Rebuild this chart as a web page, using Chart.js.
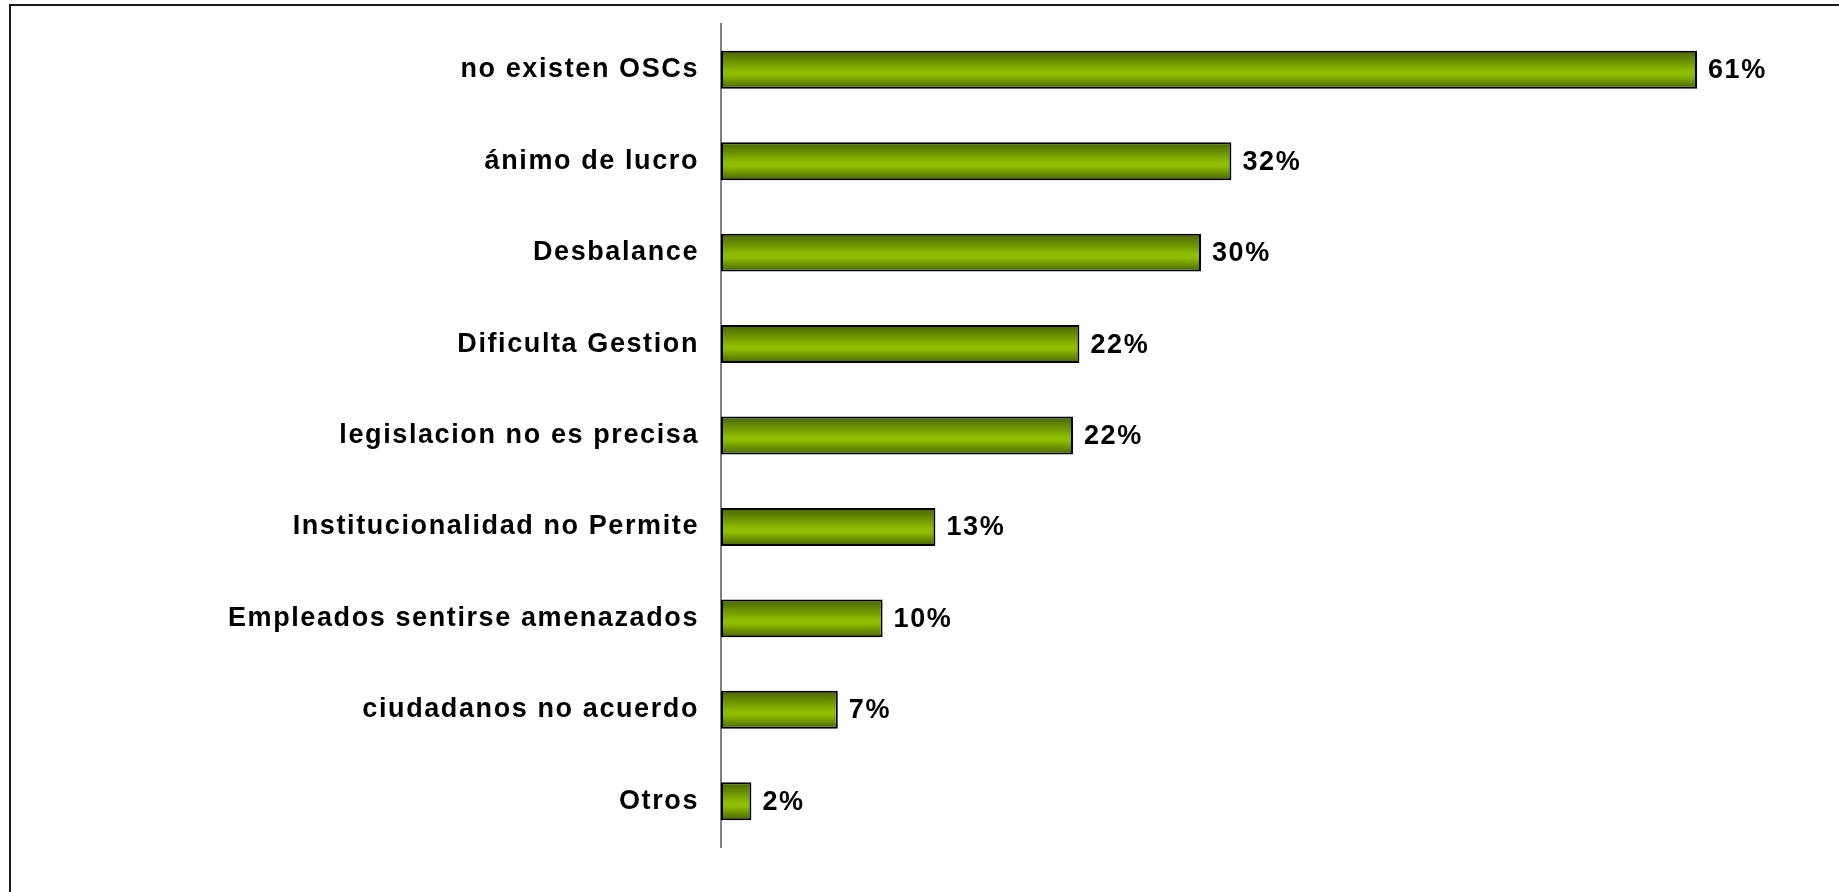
<!DOCTYPE html>
<html>
<head>
<meta charset="utf-8">
<script src="https://cdn.jsdelivr.net/npm/chart.js@4"></script>
<style>
  html, body { margin: 0; padding: 0; background: #fff; }
  #wrap { width: 1839px; height: 892px; position: relative; }
</style>
</head>
<body>
<div id="wrap"><canvas id="myChart"></canvas></div>
<script>
// catégories et valeurs (en %)
const categories = [
  'no existen OSCs',
  'ánimo de lucro',
  'Desbalance',
  'Dificulta Gestion',
  'legislacion no es precisa',
  'Institucionalidad no Permite',
  'Empleados sentirse amenazados',
  'ciudadanos no acuerdo',
  'Otros'
];
const percentages = [61, 31.9, 30, 22.4, 22, 13.4, 10.1, 7.3, 1.9];

const FONT = '"Liberation Sans", Arial, sans-serif';
const SPACING = '1.6px';

// espacement des lettres comme dans l'original
const spacingPlugin = {
  id: 'spacing',
  beforeUpdate(chart) { chart.ctx.letterSpacing = SPACING; },
  beforeDraw(chart) {
    const ctx = chart.ctx;
    ctx.letterSpacing = SPACING;
    // cadre extérieur (seulement haut et gauche visibles)
    ctx.save();
    ctx.strokeStyle = '#1a1a1a';
    ctx.lineWidth = 2;
    ctx.beginPath();
    ctx.moveTo(10, 900);
    ctx.lineTo(10, 5);
    ctx.lineTo(1850, 5);
    ctx.stroke();
    ctx.restore();
  }
};

// étiquettes de valeur à droite des barres
const valueLabels = {
  id: 'valueLabels',
  afterDatasetsDraw(chart) {
    const ctx = chart.ctx;
    const meta = chart.getDatasetMeta(0);
    ctx.save();
    ctx.letterSpacing = SPACING;
    ctx.font = 'bold 27px ' + FONT;
    ctx.fillStyle = '#000';
    ctx.textAlign = 'left';
    ctx.textBaseline = 'middle';
    meta.data.forEach((bar, i) => {
      ctx.fillText(Math.round(percentages[i]) + '%', bar.x + 11, bar.y + 1);
    });
    ctx.restore();
  }
};

function barGradient(context) {
  const chart = context.chart;
  const yScale = chart.scales.y;
  if (!yScale || context.dataIndex === undefined) return '#8cba00';
  const yc = yScale.getPixelForValue(context.dataIndex);
  if (!isFinite(yc)) return '#8cba00';
  const g = chart.ctx.createLinearGradient(0, yc - 19, 0, yc + 19);
  g.addColorStop(0, '#476300');
  g.addColorStop(0.55, '#8fbf00');
  g.addColorStop(0.65, '#8cbb00');
  g.addColorStop(1, '#476300');
  return g;
}

const ctx = document.getElementById('myChart').getContext('2d');
const myChart = new Chart(ctx, {
  type: 'bar',
  data: {
    labels: categories,
    datasets: [{
      data: percentages,
      backgroundColor: barGradient,
      borderColor: '#000',
      borderWidth: 2,
      borderSkipped: false,
      barPercentage: 0.415,
      categoryPercentage: 1
    }]
  },
  options: {
    indexAxis: 'y',
    responsive: true,
    maintainAspectRatio: false,
    animation: false,
    layout: { padding: { left: 0, right: 78, top: 24, bottom: 45 } },
    plugins: {
      legend: { display: false },
      tooltip: { enabled: false }
    },
    scales: {
      x: {
        display: false,
        min: 0,
        max: 65
      },
      y: {
        grid: { display: false, drawTicks: false },
        border: { display: true, color: '#808080', width: 2 },
        ticks: {
          color: '#000',
          padding: 22,
          font: { family: FONT, size: 27, weight: 'bold' }
        },
        afterFit(scale) {
          scale.width = 721;
          scale.paddingTop = 0;
          scale.paddingBottom = 0;
        }
      }
    }
  },
  plugins: [spacingPlugin, valueLabels]
});
</script>
</body>
</html>
